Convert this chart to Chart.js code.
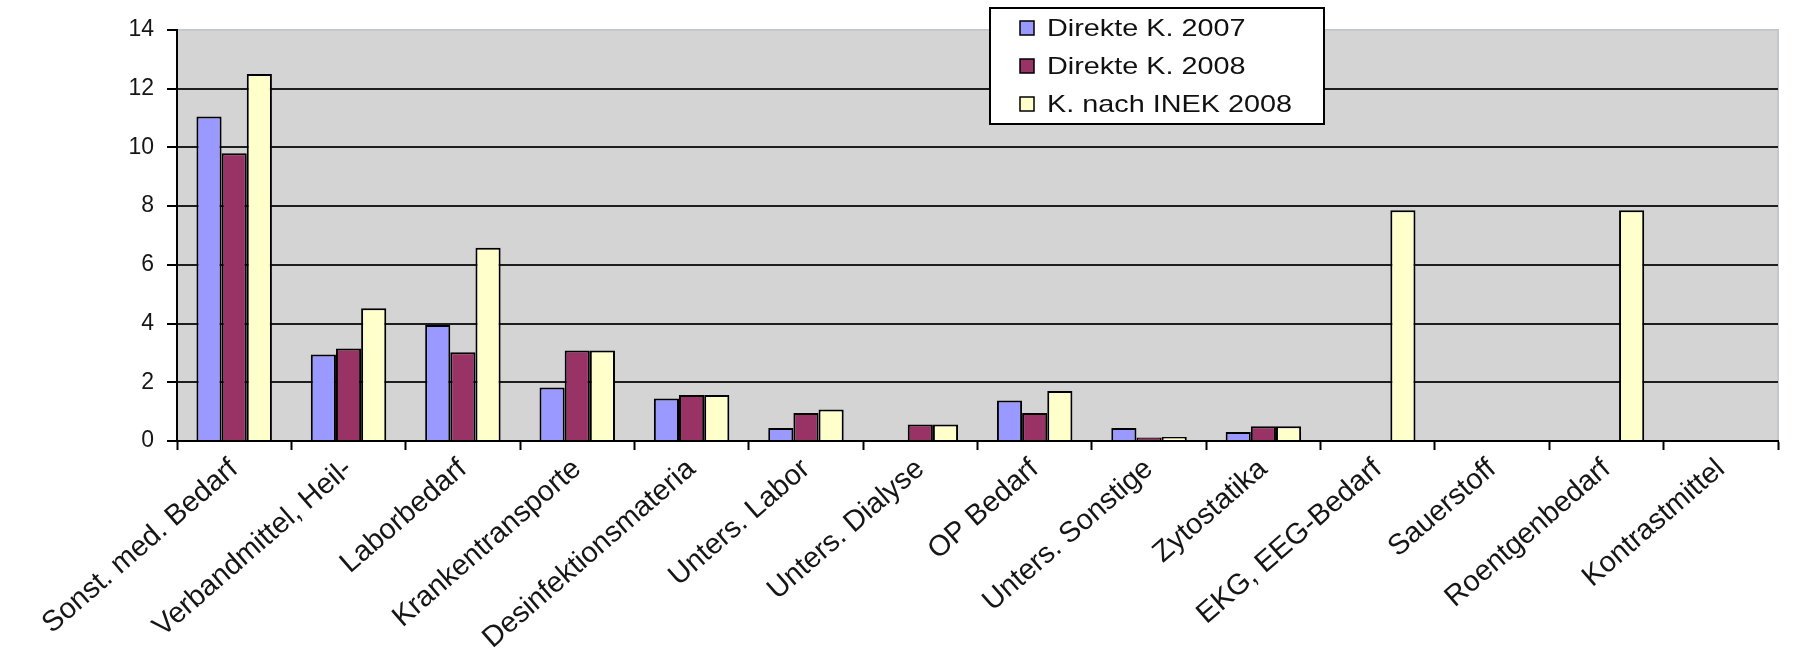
<!DOCTYPE html>
<html>
<head>
<meta charset="utf-8">
<script src="https://cdn.jsdelivr.net/npm/chart.js@4.4.0/dist/chart.umd.min.js"></script>
<style>
  html, body { margin: 0; padding: 0; background: #fff; }
  #wrap { width: 1801px; height: 661px; }
</style>
</head>
<body>
<div id="wrap"><canvas id="chart"></canvas></div>
<script>
const categories = ["Sonst. med. Bedarf", "Verbandmittel, Heil-", "Laborbedarf", "Krankentransporte",
  "Desinfektionsmateria", "Unters. Labor", "Unters. Dialyse", "OP Bedarf", "Unters. Sonstige",
  "Zytostatika", "EKG, EEG-Bedarf", "Sauerstoff", "Roentgenbedarf", "Kontrastmittel"];
const direkt2007 = [11.05, 2.95, 3.95, 1.82, 1.45, 0.44, 0, 1.38, 0.44, 0.31, 0, 0, 0, 0];
const direkt2008 = [9.8, 3.15, 3.02, 3.08, 1.57, 0.95, 0.56, 0.95, 0.12, 0.5, 0, 0, 0, 0];
const inek2008 = [12.5, 4.52, 6.58, 3.08, 1.57, 1.07, 0.56, 1.7, 0.14, 0.5, 7.86, 0, 7.86, 0];
const seriesNames = ["Direkte K. 2007", "Direkte K. 2008", "K. nach INEK 2008"];
const seriesColors = ["#9999ff", "#993366", "#ffffcc"];

const FONT = "'Liberation Sans', Arial, sans-serif";

// grey plot area + light frame on top/right
const plotBg = {
  id: 'plotBg',
  beforeDraw(chart) {
    const { ctx, chartArea: a } = chart;
    ctx.save();
    ctx.fillStyle = '#d4d4d4';
    ctx.fillRect(a.left, a.top, a.right - a.left, a.bottom - a.top);
    ctx.strokeStyle = '#c4c8cc';
    ctx.lineWidth = 2;
    ctx.beginPath();
    ctx.moveTo(a.left, a.top);
    ctx.lineTo(a.right, a.top);
    ctx.lineTo(a.right, a.bottom);
    ctx.stroke();
    ctx.restore();
  }
};

// boxed legend like the old excel one (text a bit wide, as in the source image)
const boxLegend = {
  id: 'boxLegend',
  afterDraw(chart) {
    const ctx = chart.ctx;
    const x = 990, y = 8, w = 334, h = 116;
    ctx.save();
    ctx.fillStyle = '#fff';
    ctx.fillRect(x, y, w, h);
    ctx.strokeStyle = '#000';
    ctx.lineWidth = 2;
    ctx.strokeRect(x, y, w, h);
    ctx.font = '24px ' + FONT;
    ctx.textBaseline = 'middle';
    chart.data.datasets.forEach((ds, i) => {
      const cy = y + 20 + i * 38;
      ctx.fillStyle = ds.backgroundColor;
      ctx.fillRect(x + 30, cy - 7, 14, 14);
      ctx.lineWidth = 1.5;
      ctx.strokeStyle = '#000';
      ctx.strokeRect(x + 30, cy - 7, 14, 14);
      ctx.fillStyle = '#111';
      ctx.save();
      ctx.translate(x + 57, cy + 1);
      ctx.scale(1.2, 1);
      ctx.fillText(ds.label, 0, 0);
      ctx.restore();
    });
    ctx.restore();
  }
};

new Chart(document.getElementById('chart'), {
  type: 'bar',
  data: {
    labels: categories,
    datasets: [direkt2007, direkt2008, inek2008].map((d, i) => ({
      label: seriesNames[i],
      data: d,
      backgroundColor: seriesColors[i],
      borderColor: '#000',
      borderWidth: 2,
      categoryPercentage: 0.66,
      barPercentage: 1.0
    }))
  },
  options: {
    responsive: true,
    maintainAspectRatio: false,
    animation: false,
    layout: { padding: { top: 30, right: 23, left: 0, bottom: 0 } },
    plugins: {
      legend: { display: false },
      tooltip: { enabled: false }
    },
    scales: {
      x: {
        grid: { offset: true, drawOnChartArea: false, drawTicks: true, tickLength: 9, tickColor: '#000', tickWidth: 2 },
        border: { color: '#000', width: 2 },
        ticks: {
          autoSkip: false, minRotation: 41, maxRotation: 41,
          color: '#161616', font: { family: FONT, size: 29 }, padding: 2
        },
        afterFit(s) { s.height = 220; }
      },
      y: {
        min: 0, max: 14,
        grid: {
          color: c => c.tick.value === 14 ? 'rgba(0,0,0,0)' : '#1e1e1e',
          lineWidth: 2, tickLength: 10, tickColor: '#000', tickWidth: 2
        },
        border: { color: '#000', width: 2 },
        ticks: { stepSize: 2, color: '#161616', font: { family: FONT, size: 23 }, padding: 13 },
        afterFit(s) { s.width = 177; }
      }
    }
  },
  plugins: [plotBg, boxLegend]
});
</script>
</body>
</html>
